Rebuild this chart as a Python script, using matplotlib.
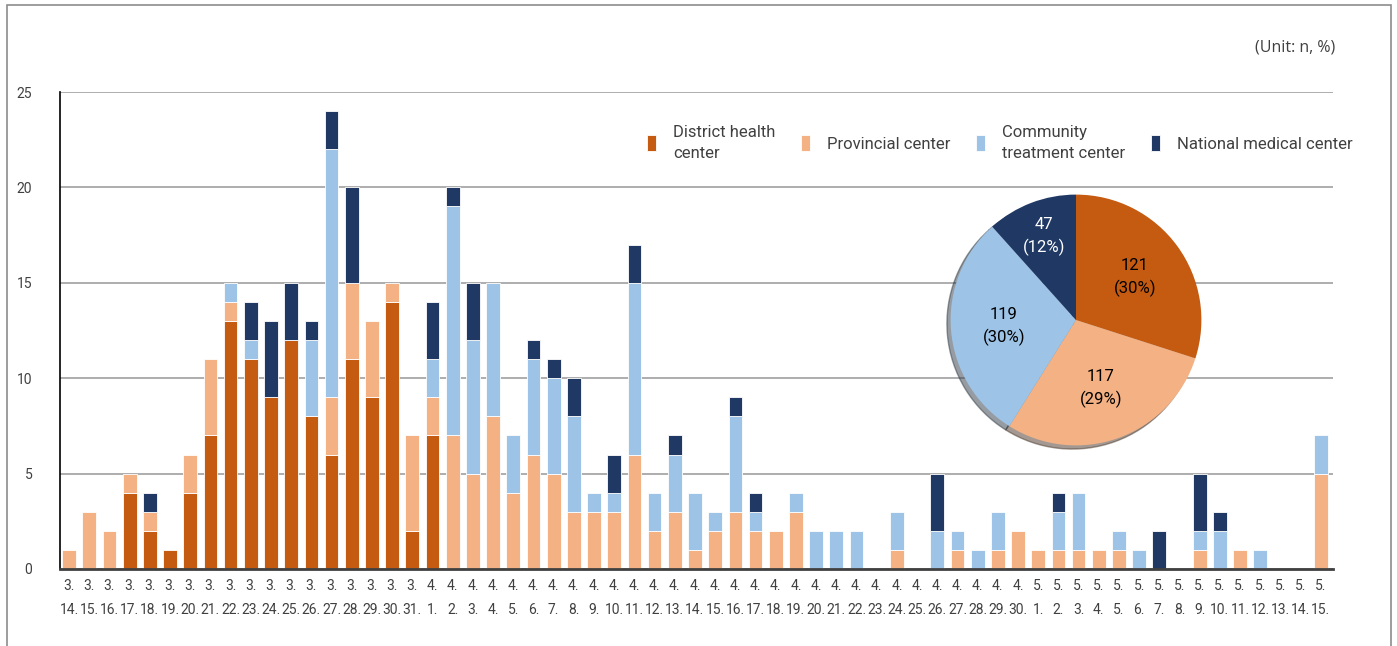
import numpy as np
import matplotlib.pyplot as plt
from matplotlib.patches import Rectangle

plt.rcParams['font.family'] = ['Roboto', 'DejaVu Sans']

# dates 3.14 - 5.15
dates = ([('3.', f'{d}.') for d in range(14, 32)]
         + [('4.', f'{d}.') for d in range(1, 31)]
         + [('5.', f'{d}.') for d in range(1, 16)])
labels = [m + '\n' + d for m, d in dates]

district = [0, 0, 0, 4, 2, 1, 4, 7, 13, 11, 9, 12, 8, 6, 11, 9, 14, 2,
            7, 0, 0, 0, 0, 0, 0, 0, 0, 0, 0, 0, 0, 0, 0, 0, 0, 0, 0, 0, 0, 0, 0, 0, 0, 0, 0, 0, 0, 0,
            0, 0, 0, 0, 0, 0, 0, 0, 0, 0, 0, 0, 0, 0, 0]
provincial = [1, 3, 2, 1, 1, 0, 2, 4, 1, 0, 0, 0, 0, 3, 4, 4, 1, 5,
              2, 7, 5, 8, 4, 6, 5, 3, 3, 3, 6, 2, 3, 1, 2, 3, 2, 2, 3, 0, 0, 0, 0, 1, 0, 0, 1, 0, 1, 2,
              1, 1, 1, 1, 1, 0, 0, 0, 1, 0, 1, 0, 0, 0, 5]
community = [0, 0, 0, 0, 0, 0, 0, 0, 1, 1, 0, 0, 4, 13, 0, 0, 0, 0,
             2, 12, 7, 7, 3, 5, 5, 5, 1, 1, 9, 2, 3, 3, 1, 5, 1, 0, 1, 2, 2, 2, 0, 2, 0, 2, 1, 1, 2, 0,
             0, 2, 3, 0, 1, 1, 0, 0, 1, 2, 0, 1, 0, 0, 2]
national = [0, 0, 0, 0, 1, 0, 0, 0, 0, 2, 4, 3, 1, 2, 5, 0, 0, 0,
            3, 1, 3, 0, 0, 1, 1, 2, 0, 2, 2, 0, 1, 0, 0, 1, 1, 0, 0, 0, 0, 0, 0, 0, 0, 3, 0, 0, 0, 0,
            0, 1, 0, 0, 0, 0, 2, 0, 3, 1, 0, 0, 0, 0, 0]

names = ['District health\ncenter', 'Provincial center', 'Community\ntreatment center',
         'National medical center']
colors = ['#C55A11', '#F4B183', '#9DC3E6', '#203864']
pie_vals = [121, 117, 119, 47]
pie_pct = ['30%', '29%', '30%', '12%']

fig = plt.figure(figsize=(13.97, 6.46), dpi=100)
ax = fig.add_axes([60 / 1397, 77 / 646, 1273 / 1397, 477 / 646])

x = np.arange(len(labels))
bottom = np.zeros(len(labels))
for vals, c, n in zip([district, provincial, community, national], colors, names):
    v = np.array(vals)
    m = v > 0
    ax.bar(x[m], v[m], 0.68, bottom=bottom[m], color=c, edgecolor='white', linewidth=0.6,
           label=n, zorder=3)
    bottom += v

ax.set_xlim(-0.45, 62.6)
ax.set_ylim(0, 25)
ax.set_yticks([0, 5, 10, 15, 20, 25])
ax.yaxis.grid(True, color='#a0a0a0', linewidth=1.2, zorder=0)
ax.set_xticks(x)
ax.set_xticklabels(labels, fontsize=10, color='#404040', linespacing=1.9)
ax.tick_params(length=0, pad=7)
ax.tick_params(axis='y', labelsize=10, labelcolor='#404040', pad=20)
for s in ['top', 'right']:
    ax.spines[s].set_visible(False)
ax.spines['left'].set_color('black')
ax.spines['left'].set_linewidth(1.2)
ax.spines['bottom'].set_color('#404040')
ax.spines['bottom'].set_linewidth(2)
ax.spines['bottom'].set_zorder(5)

leg = ax.legend(loc='upper right', bbox_to_anchor=(1.027, 0.962), ncol=4, frameon=False,
                fontsize=12, handlelength=0.55, handleheight=1.1, columnspacing=1.55,
                handletextpad=1.0, labelcolor='#404040')
for t in leg.get_texts():
    t.set_linespacing(1.45)

fig.text(1335 / 1397, 1 - 47 / 646, '(Unit: n, %)', ha='right', va='center',
         fontsize=11.5, color='#404040', family=['Open Sans', 'DejaVu Sans'])

# outer frame
fig.add_artist(Rectangle((7 / 1397, -0.1), 1384 / 1397, 1.1 - 5 / 646, transform=fig.transFigure,
                         fill=False, edgecolor='#8c8c8c', linewidth=1.2))

# pie inset
pax = fig.add_axes([(1076 - 165) / 1397, 1 - (320 + 165) / 646, 330 / 1397, 330 / 646])
wedges, _ = pax.pie(pie_vals, colors=colors, startangle=90, counterclock=False, shadow=True,
                    radius=0.95)
pax.set_aspect('equal')
for i, w in enumerate(wedges):
    ang = np.deg2rad((w.theta1 + w.theta2) / 2)
    r = 0.55 if i != 3 else 0.68
    tc = 'white' if i == 3 else 'black'
    pax.text(r * np.cos(ang), r * np.sin(ang), f'{pie_vals[i]}\n({pie_pct[i]})', ha='center',
             va='center', fontsize=12, color=tc, linespacing=1.5)

fig.savefig('out.png', dpi=100)
